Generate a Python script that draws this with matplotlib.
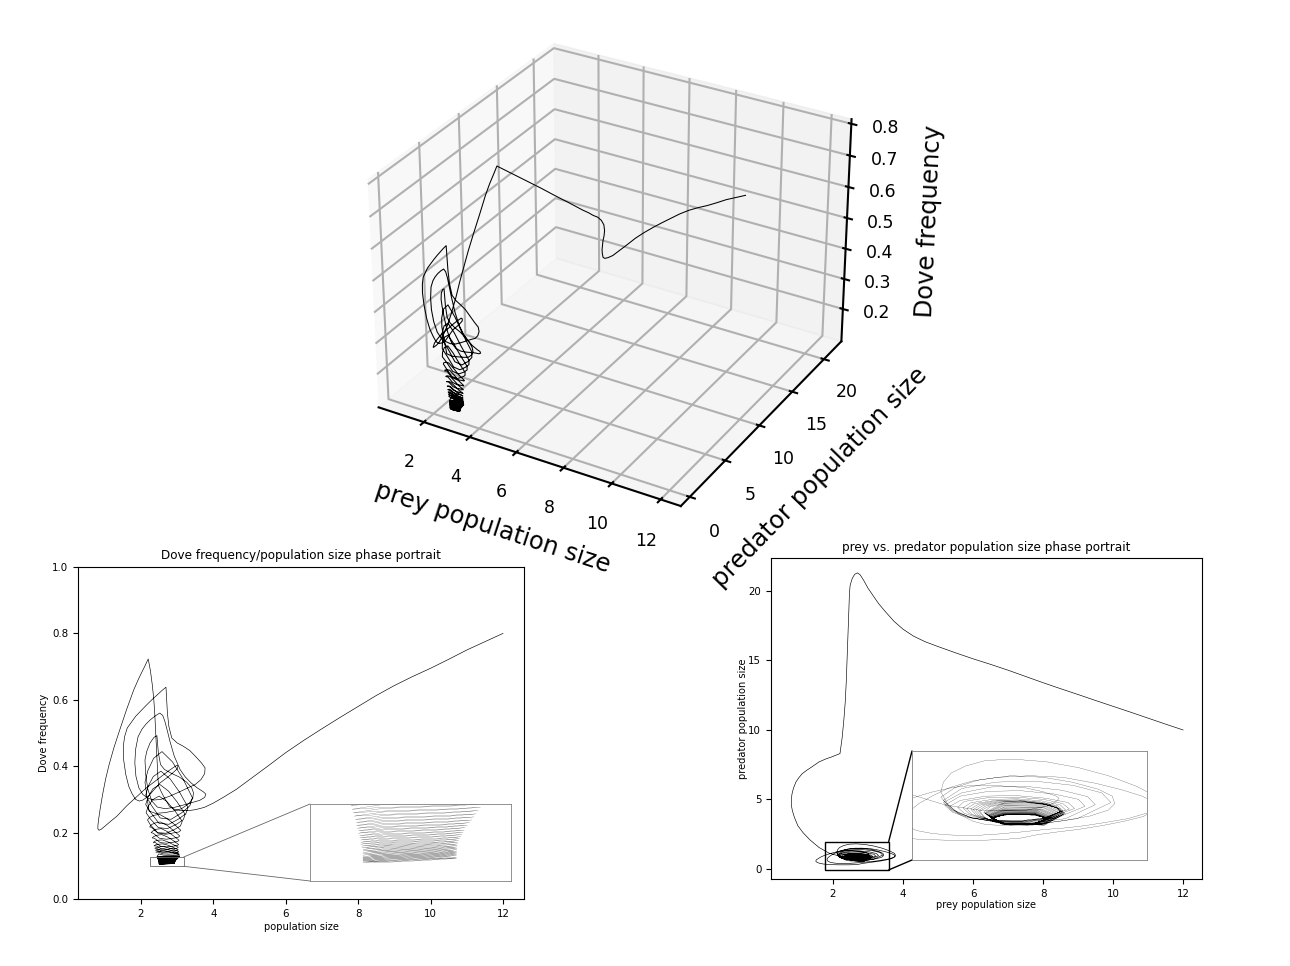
import numpy as np
import matplotlib
matplotlib.use("Agg")
import matplotlib.pyplot as plt
from matplotlib.patches import ConnectionPatch

# start -> predator peak -> first cusp
prey_a = [12,11.5,11,10.5,10,9.5,9,8.5,8,7.5,7,6.5,6,5.5,5,4.63,4.3,4.0,3.75,3.5,3.3,3.15,3.0,2.88,2.78,2.7,2.62,2.55,2.49,2.47,2.46,2.445,2.43,2.42,2.4,2.38,2.35,2.31,2.26,2.2]
pred_a = [10,10.42,10.85,11.28,11.7,12.12,12.55,12.97,13.4,13.85,14.3,14.72,15.12,15.55,16.0,16.35,16.75,17.25,17.8,18.5,19.1,19.65,20.2,20.75,21.15,21.3,21.2,20.9,20.4,19.8,19.0,18,17,16.2,15,13.5,12,10.7,9.4,8.3]
dove_a = [.80,.775,.75,.722,.695,.67,.643,.613,.58,.547,.513,.478,.441,.40,.36,.33,.308,.289,.276,.269,.266,.266,.268,.272,.28,.295,.31,.325,.34,.36,.384,.416,.448,.473,.511,.559,.606,.647,.688,.723]

# left lobe, hook and second cusp
prey_b = [2.1,1.95,1.8,1.6,1.4,1.25,1.12,1.02,.94,.87,.83,.81,.81,.84,.9,1.0,1.15,1.34,1.6,1.88,2.15,2.43,2.75,2.92,3.0,
          3.02,3.0,2.9,2.75,2.52,2.35,2.2,2.05,1.95,1.85,1.75,1.66,1.58,1.52,1.51,1.55,1.62,1.72,1.85,2.0,2.15,2.3,2.45,2.58,2.69]
pred_b = [8.2,8.05,7.92,7.7,7.35,7.1,6.85,6.55,6.25,5.8,5.4,5.0,4.6,4.2,3.7,3.1,2.6,2.1,1.55,1.15,.95,.85,.85,.93,1.02,
          1.08,1.12,1.2,1.28,1.32,1.32,1.28,1.2,1.13,1.05,.97,.87,.75,.65,.55,.47,.41,.36,.33,.31,.3,.3,.3,.31,.33]
dove_b = [.70,.667,.63,.57,.505,.455,.405,.36,.315,.27,.24,.222,.211,.207,.21,.219,.233,.25,.28,.308,.335,.358,.385,.398,.403,
          .40,.392,.382,.368,.349,.328,.309,.298,.295,.30,.318,.34,.375,.42,.46,.49,.515,.53,.55,.567,.584,.60,.615,.628,.638]

# the two wide bulges
prey_c = [2.71,2.73,2.77,2.85,3.0,3.17,3.35,3.52,3.67,3.77,3.76,3.66,3.5,3.3,3.05,2.8,2.55,2.35,2.18,2.05,1.94,1.86,1.83,1.85,1.92,2.03,2.14,2.26,2.4,2.52,2.6,2.66,2.72,2.8,2.92,3.08,3.22,3.38,3.55,3.72,3.79,3.76,3.62,3.4,3.17,2.92,2.66,2.45,2.3,2.19,2.13,2.11,2.16,2.25,2.36,2.44]
pred_c = [.335,.34,.36,.4,.45,.5,.57,.65,.74,.88,1.0,1.12,1.24,1.36,1.47,1.5,1.47,1.4,1.28,1.13,.98,.82,.68,.57,.48,.43,.4,.39,.39,.41,.42,.44,.45,.47,.5,.53,.57,.63,.7,.82,.95,1.12,1.3,1.5,1.65,1.76,1.81,1.78,1.68,1.55,1.38,1.2,.98,.78,.65,.6]
dove_c = [.60,.56,.52,.485,.47,.46,.447,.428,.41,.395,.378,.36,.345,.335,.322,.31,.30,.298,.304,.315,.335,.37,.41,.45,.489,.512,.527,.54,.552,.56,.553,.535,.51,.475,.43,.39,.368,.35,.335,.323,.316,.306,.297,.29,.283,.276,.272,.277,.295,.33,.375,.419,.445,.47,.487,.492]

# shrinking loops
prey_d = [2.48,2.54,2.65,2.85,3.05,3.26,3.4,3.45,3.43,3.32,3.12,2.9,2.65,2.4,2.22,
          2.11,2.19,2.35,2.58,2.87,3.16,3.42,3.35,3.13,2.83,2.53,2.27,
          2.13,2.20,2.34,2.55,2.81,3.07,3.30,3.24,3.04,2.77,2.50,2.27,
          2.13,2.20,2.33,2.52,2.76,3.00,3.22,3.17,2.98,2.73,2.48,2.26,
          2.14,2.20,2.32,2.50,2.72,2.94,3.14,3.09,2.92,2.69,2.46,2.26,
          2.18,2.24,2.35,2.51,2.71,2.92,3.10,3.05,2.90,2.69,2.47,2.29,
          2.24,2.29,2.39,2.54,2.72,2.90,3.07,3.03,2.89,2.70,2.51,2.34,
          2.28,2.33,2.42,2.56,2.73,2.90,3.05,3.01,2.88,2.70,2.53,2.37,
          2.31,2.35,2.44,2.57,2.73,2.89,3.04,3.0,2.88,2.71,2.54,2.40,
          2.34,2.38,2.46,2.59,2.74,2.89,3.03,3.0,2.88,2.72,2.56,2.42,
          2.36,2.40,2.48,2.60,2.75,2.90,3.03,3.0,2.88,2.73,2.57,2.44,
          2.38,2.42,2.50,2.62,2.76,2.91,3.04,3.01,2.89,2.74,2.59,2.46,
          2.40,2.44,2.52,2.63,2.78,2.92,3.05,3.02,2.91,2.76,2.61,2.48,
          2.41,2.45,2.53,2.64,2.79,2.93,3.06,3.03,2.92,2.77,2.62,2.49]
pred_d = [.585,.58,.58,.6,.66,.75,.86,.98,1.12,1.25,1.38,1.47,1.5,1.42,1.28,
          1.10,.88,.71,.62,.60,.70,1.0,1.18,1.32,1.40,1.38,1.26,
          1.04,.86,.72,.63,.62,.70,.96,1.11,1.23,1.30,1.29,1.18,
          1.0,.84,.72,.65,.64,.71,.93,1.06,1.16,1.22,1.21,1.12,
          .95,.82,.72,.66,.65,.71,.89,1.0,1.08,1.13,1.12,1.04,
          .93,.81,.72,.67,.66,.71,.88,.98,1.06,1.10,1.09,1.02,
          .91,.80,.72,.67,.66,.71,.865,.955,1.03,1.07,1.06,.996,
          .90,.79,.71,.66,.65,.70,.85,.94,1.01,1.05,1.04,.98,
          .89,.78,.70,.65,.64,.69,.84,.93,1.0,1.04,1.03,.97,
          .88,.77,.69,.64,.63,.68,.83,.92,.99,1.03,1.02,.96,
          .87,.76,.68,.63,.62,.67,.82,.91,.98,1.02,1.01,.95,
          .86,.75,.66,.61,.60,.65,.81,.90,.98,1.02,1.01,.94,
          .85,.73,.64,.59,.58,.63,.80,.89,.97,1.01,1.0,.93,
          .84,.72,.63,.58,.57,.62,.79,.88,.96,1.0,.99,.92]
dove_d = [.44,.405,.39,.378,.368,.352,.335,.32,.303,.287,.272,.265,.26,.258,.265,
          .352,.387,.424,.444,.413,.362,.305,.281,.26,.24,.244,.285,
          .313,.34,.369,.385,.361,.321,.276,.257,.241,.225,.228,.26,
          .285,.308,.332,.345,.325,.292,.255,.239,.225,.212,.215,.241,
          .26,.279,.299,.31,.293,.265,.234,.22,.209,.198,.2,.223,
          .238,.246,.252,.255,.243,.225,.207,.202,.199,.195,.198,.216,
          .217,.224,.229,.232,.222,.206,.19,.186,.183,.18,.183,.198,
          .2,.205,.21,.212,.203,.19,.177,.173,.171,.168,.17,.183,
          .184,.188,.192,.194,.187,.176,.164,.161,.159,.157,.159,.17,
          .17,.174,.177,.178,.172,.164,.156,.153,.152,.15,.151,.16,
          .16,.163,.165,.166,.162,.155,.148,.147,.145,.144,.145,.152,
          .153,.155,.157,.158,.154,.149,.143,.141,.14,.139,.14,.146,
          .147,.149,.15,.151,.148,.143,.138,.137,.136,.135,.136,.141,
          .141,.143,.144,.145,.142,.138,.134,.133,.132,.131,.132,.136]

# final tight spiral
prey_e = [2.44,2.58,2.91,3.07,2.93,2.59, 2.445,2.58,2.905,3.06,2.925,2.59, 2.45,2.58,2.90,3.05,2.92,2.59,
          2.455,2.58,2.895,3.04,2.91,2.595, 2.46,2.585,2.89,3.03,2.905,2.60, 2.465,2.585,2.88,3.02,2.90,2.60,
          2.47,2.59,2.875,3.01,2.89,2.60, 2.47,2.585,2.87,3.00,2.885,2.60, 2.475,2.59,2.86,2.99,2.875,2.60,
          2.48,2.59,2.855,2.98,2.87,2.60, 2.48,2.59,2.85,2.97,2.86,2.60, 2.485,2.59,2.845,2.965,2.86,2.60,
          2.485,2.59,2.84,2.96,2.855,2.60, 2.49,2.59,2.84,2.955,2.85,2.60, 2.49,2.59,2.835,2.95,2.85,2.60,
          2.49,2.59,2.83,2.945,2.845,2.60, 2.495,2.59,2.83,2.94,2.84,2.60, 2.495,2.59,2.825,2.935,2.84,2.60,
          2.50,2.595,2.825,2.935,2.84,2.605, 2.50,2.595,2.825,2.933,2.84,2.605, 2.50,2.595,2.825,2.933,2.84,2.605,
          2.50,2.595,2.825,2.932,2.84,2.605, 2.50,2.595,2.825,2.932,2.84,2.605, 2.50,2.595,2.825,2.931,2.84,2.605,
          2.50,2.595,2.825,2.931,2.84,2.605, 2.50,2.595,2.825,2.93,2.84,2.605, 2.50,2.595,2.825,2.93,2.84,2.605, 2.50,2.595,2.825,2.93,2.84,2.605,
          2.50,2.525,2.575,2.65,2.74,2.83,2.93,2.905,2.83,2.74,2.635,2.55,
          2.50,2.525,2.575,2.65,2.74,2.83,2.93,2.905,2.83,2.74,2.635,2.55]
pred_e = [.82,.60,.58,.80,.98,.99, .81,.60,.58,.79,.96,.97, .80,.60,.585,.78,.94,.95,
          .80,.60,.585,.78,.93,.94, .79,.61,.59,.77,.91,.92, .78,.605,.59,.76,.90,.91,
          .77,.61,.59,.755,.88,.89, .76,.61,.59,.75,.87,.88, .76,.61,.595,.745,.865,.87,
          .755,.61,.595,.74,.855,.86, .75,.61,.595,.735,.845,.855, .745,.61,.60,.73,.835,.845,
          .74,.61,.60,.725,.825,.835, .73,.61,.60,.72,.82,.825, .73,.61,.60,.715,.81,.815,
          .725,.61,.60,.715,.805,.81, .72,.61,.60,.71,.80,.805, .72,.61,.60,.71,.795,.80,
          .715,.61,.60,.705,.79,.795, .715,.615,.605,.705,.785,.79, .71,.615,.605,.70,.78,.785,
          .71,.615,.605,.70,.775,.78, .705,.615,.605,.70,.77,.775, .705,.615,.605,.70,.77,.775,
          .705,.615,.605,.70,.77,.775, .705,.615,.605,.70,.77,.775, .705,.615,.605,.70,.77,.775, .705,.615,.605,.70,.77,.775,
          .71,.66,.62,.60,.595,.617,.687,.728,.762,.78,.776,.747,
          .71,.66,.62,.60,.595,.617,.687,.728,.762,.78,.776,.747]
dove_e = [.1275,.1281,.1289,.1295,.1287,.1278, .1260,.1266,.1274,.1280,.1272,.1263, .1246,.1252,.1260,.1266,.1258,.1249,
          .1233,.1239,.1247,.1253,.1245,.1236, .1221,.1227,.1235,.1241,.1233,.1224, .1209,.1215,.1223,.1229,.1221,.1212,
          .1198,.1204,.1212,.1218,.1210,.1201, .1187,.1193,.1201,.1207,.1199,.1190, .1177,.1183,.1191,.1197,.1189,.1180,
          .1168,.1174,.1182,.1188,.1180,.1171, .1159,.1165,.1173,.1179,.1171,.1162, .1150,.1156,.1164,.1170,.1162,.1153,
          .1142,.1148,.1156,.1162,.1154,.1145, .1134,.1140,.1148,.1154,.1146,.1137, .1126,.1132,.1140,.1146,.1138,.1129,
          .1119,.1125,.1133,.1139,.1131,.1122, .1112,.1118,.1126,.1132,.1124,.1115, .1106,.1112,.1120,.1126,.1118,.1109,
          .1100,.1106,.1114,.1120,.1112,.1103, .1094,.1100,.1108,.1114,.1106,.1097, .1089,.1095,.1103,.1109,.1101,.1092,
          .1084,.1090,.1098,.1104,.1096,.1087, .1079,.1085,.1093,.1099,.1091,.1082, .1074,.1080,.1088,.1094,.1086,.1077,
          .1070,.1076,.1084,.1090,.1082,.1073, .1066,.1072,.1080,.1086,.1078,.1069, .1062,.1068,.1076,.1082,.1074,.1065, .1058,.1064,.1072,.1078,.1070,.1061,
          .1055,.1056,.1058,.1061,.1065,.1068,.107,.1068,.1064,.106,.1056,.1054,
          .1053,.1054,.1056,.1059,.1063,.1066,.1068,.1066,.1062,.1058,.1054,.1052]

prey = np.array(prey_a + prey_b + prey_c + prey_d + prey_e)
predator = np.array(pred_a + pred_b + pred_c + pred_d + pred_e)
dove = np.array(dove_a + dove_b + dove_c + dove_d + dove_e)

W, H = 1290, 966
fig = plt.figure(figsize=(W / 100, H / 100), dpi=100)

def px_axes(x0, y0, x1, y1, **kw):
    return fig.add_axes([x0 / W, 1 - y1 / H, (x1 - x0) / W, (y1 - y0) / H], **kw)

# 3D panel
ax3 = px_axes(338, 2, 876, 540, projection="3d")
ax3.patch.set_alpha(0)
ax3.plot(prey, predator, dove, color="k", lw=0.75)
ax3.set_xticks([2, 4, 6, 8, 10, 12])
ax3.set_yticks([0, 5, 10, 15, 20])
ax3.set_zticks([.2, .3, .4, .5, .6, .7, .8])
ax3.tick_params(axis="x", labelsize=12.5, pad=8)
ax3.tick_params(axis="y", labelsize=12.5, pad=8)
ax3.tick_params(axis="z", labelsize=12.5, pad=7)
ax3.set_xlabel("prey population size", fontsize=17.5, labelpad=16)
ax3.set_ylabel("predator population size", fontsize=17.5, labelpad=16)
ax3.set_zlabel("Dove frequency", fontsize=17.5, labelpad=16)
for a in (ax3.xaxis, ax3.yaxis, ax3.zaxis):
    a._axinfo["grid"]["linewidth"] = 1.5
    a._axinfo["tick"]["linewidth"] = {True: 1.5, False: 1.0}
    a.line.set_linewidth(1.5)

def add_zoom(ax, inset, view, box, color, lw):
    inset.set_xlim(*view[0])
    inset.set_ylim(*view[1])
    inset.set_xticks([])
    inset.set_yticks([])
    for s in inset.spines.values():
        s.set_linewidth(.6)
        s.set_color("#808080")
    (bx0, bx1), (by0, by1) = box
    ax.add_patch(plt.Rectangle((bx0, by0), bx1 - bx0, by1 - by0,
                               fill=False, edgecolor=color, linewidth=lw, zorder=4))
    for cy, yv in ((0, by0), (1, by1)):
        ax.add_artist(ConnectionPatch(xyA=(0, cy), coordsA=inset.transAxes,
                                      xyB=(bx1, yv), coordsB=ax.transData,
                                      color=color, linewidth=lw, zorder=4))

# left panel
ax1 = px_axes(78, 567, 524, 899)
ax1.plot(prey, dove, color="k", lw=0.45)
ax1.set_xlim(.26, 12.58)
ax1.set_ylim(0, 1)
ax1.set_xticks([2, 4, 6, 8, 10, 12])
ax1.tick_params(labelsize=7.4)
ax1.set_xlabel("population size", fontsize=7.1, labelpad=2)
ax1.set_ylabel("Dove frequency", fontsize=7.1, labelpad=2)
ax1.set_title("Dove frequency/population size phase portrait", fontsize=8.65, pad=6)
in1 = ax1.inset_axes([(310 - 78) / 446, (899 - 881) / 332, 201 / 446, 77 / 332])
in1.plot(prey, dove, color="k", lw=0.12)
add_zoom(ax1, in1, ((2.257, 3.18), (.0985, .1265)), ((2.257, 3.18), (.0985, .1265)), "#666666", .6)

# right panel
ax2 = px_axes(771, 558, 1202, 879)
ax2.plot(prey, predator, color="k", lw=0.45)
ax2.set_xlim(.23, 12.54)
ax2.set_ylim(-.72, 22.37)
ax2.set_xticks([2, 4, 6, 8, 10, 12])
ax2.set_yticks([0, 5, 10, 15, 20])
ax2.tick_params(labelsize=7.4)
ax2.set_xlabel("prey population size", fontsize=7.1, labelpad=1)
ax2.set_ylabel("predator population size", fontsize=7.1, labelpad=0)
ax2.set_title("prey vs. predator population size phase portrait", fontsize=8.65, pad=5)
in2 = ax2.inset_axes([(912 - 771) / 431, (879 - 860) / 321, 235 / 431, 109 / 321])
in2.plot(prey, predator, color="k", lw=0.15)
add_zoom(ax2, in2, ((1.888, 3.698), (-.07, 1.96)), ((1.78, 3.59), (-.07, 1.96)), "k", 1)

fig.savefig("out.png", dpi=100)
